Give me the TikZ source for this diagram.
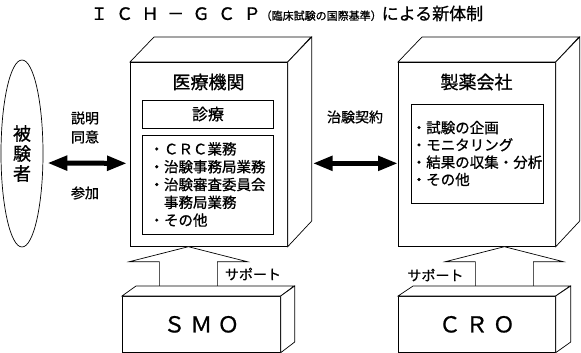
\documentclass[tikz,border=0pt]{standalone}
\usepackage{fontspec}
\setmainfont{Noto Sans CJK JP}[FakeBold=0.8]
\usetikzlibrary{arrows.meta,shapes.geometric}

\begin{document}
\begin{tikzpicture}[x=1pt,y=-1pt,
  face/.style={draw, fill=white, line width=0.7pt, line join=miter},
  front/.style={face, rectangle, inner sep=0pt},
  inbox/.style={draw, rectangle, line width=0.7pt, inner sep=0pt},
  dblarrow/.style={line width=5pt, {Triangle[length=20pt,width=14pt]}-{Triangle[length=20pt,width=14pt]}},
  lbl/.style={font=\fontsize{14}{19}\selectfont, align=center, inner sep=0pt}]
\useasboundingbox (0,0) rectangle (581,353);

% title
\node[inner sep=0pt, anchor=west] (title) at (90.5,13.5) {{\fontsize{17}{19}\selectfont Ｉ\hspace{8.5pt}Ｃ\hspace{8.5pt}Ｈ\hspace{8.5pt}－\hspace{8.5pt}Ｇ\hspace{8.5pt}Ｃ\hspace{8.5pt}Ｐ}{\fontsize{11}{13}\selectfont（臨床試験の国際基準）}{\fontsize{17}{19}\selectfont による新体制}};

% subject
\node[draw, ellipse, line width=0.7pt, minimum width=42pt, minimum height=187pt, inner sep=0pt, align=center, font=\fontsize{18}{20}\selectfont] (subj) at (22,153.5) {被\\験\\者};

% hospital
\node[front, minimum width=157pt, minimum height=184pt, anchor=north west] (hosp) at (130,62) {};
\draw[face] (hosp.north west) -- ++(24,-25) -- ++(157,0) -- (hosp.north east) -- cycle;
\draw[face] (hosp.north east) -- ++(24,-25) -- ++(0,184) -- (hosp.south east) -- cycle;
\node[font=\fontsize{18}{20}\selectfont, inner sep=0pt] (hospname) at (208.5,82) {医療機関};
\node[inbox, minimum width=131pt, minimum height=28pt, font=\fontsize{16}{18}\selectfont] (care) at (208,114) {診療};
\node[inbox, minimum width=131pt, minimum height=99pt, align=left, font=\fontsize{14.5}{17.8}\selectfont] (hospwork) at (207.5,184.5) {・ＣＲＣ業務\\・治験事務局業務\\・治験審査委員会\\\phantom{・}事務局業務\\・その他};

% pharma
\node[front, minimum width=157pt, minimum height=184pt, anchor=north west] (pharma) at (398,62) {};
\draw[face] (pharma.north west) -- ++(24,-25) -- ++(157,0) -- (pharma.north east) -- cycle;
\draw[face] (pharma.north east) -- ++(24,-25) -- ++(0,184) -- (pharma.south east) -- cycle;
\node[font=\fontsize{18}{20}\selectfont, inner sep=0pt] (pharmaname) at (476.5,82) {製薬会社};
\node[inbox, minimum width=132pt, minimum height=99pt, align=left, font=\fontsize{14.5}{17.3}\selectfont] (pharmawork) at (477,153.5) {・試験の企画\\・モニタリング\\・結果の収集・分析\\・その他};

% arrows and labels
\draw[dblarrow] ([shift={(4,9.5)}]subj.east) -- ([shift={(-3,9)}]hosp.west);
\node[lbl] (explain) at (85,127.5) {説明\\同意};
\node[lbl] (join) at (85,193) {参加};
\draw[dblarrow] ([shift={(25,9)}]hosp.east) -- ([shift={(0,9)}]pharma.west);
\node[lbl] (contract) at (355,117) {治験契約};

% support
\draw[face] ([xshift=-20.5pt]hosp.south) -- ++(59,15) -- ++(-30,0) -- ++(0,25) -- ++(-58,0) -- ++(0,-25) -- ++(-30,0) -- cycle;
\draw[face] ([xshift=27.5pt]pharma.south) -- ++(59,15) -- ++(-30,0) -- ++(0,25) -- ++(-58,0) -- ++(0,-25) -- ++(-30,0) -- cycle;
\node[lbl] (smosup) at (253,274) {サポート};
\node[lbl] (crosup) at (435.5,275) {サポート};

% SMO
\node[front, minimum width=158pt, minimum height=56pt, anchor=north west, font=\fontsize{22}{24}\selectfont] (smo) at (122,296) {Ｓ\hspace{5pt}Ｍ\hspace{5pt}Ｏ};
\draw[face] (smo.north west) -- ++(14,-10) -- ++(158,0) -- (smo.north east) -- cycle;
\draw[face] (smo.north east) -- ++(14,-10) -- ++(0,56) -- (smo.south east) -- cycle;

% CRO
\node[front, minimum width=157pt, minimum height=56pt, anchor=north west, font=\fontsize{22}{24}\selectfont] (cro) at (398,296) {Ｃ\hspace{5pt}Ｒ\hspace{5pt}Ｏ};
\draw[face] (cro.north west) -- ++(15,-10) -- ++(157,0) -- (cro.north east) -- cycle;
\draw[face] (cro.north east) -- ++(15,-10) -- ++(0,56) -- (cro.south east) -- cycle;
\end{tikzpicture}
\end{document}
